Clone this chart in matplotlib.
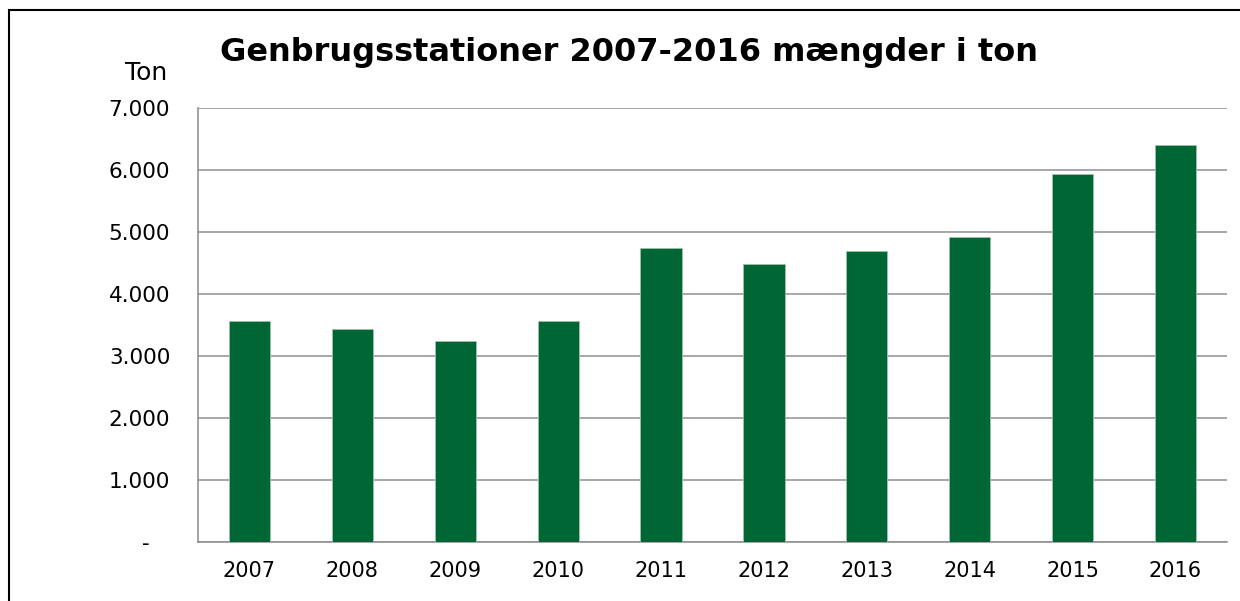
import numpy as np
import matplotlib
matplotlib.use("Agg")
import matplotlib.pyplot as plt
from matplotlib.patches import Rectangle

# data
years = ['2007', '2008', '2009', '2010', '2011', '2012', '2013', '2014', '2015', '2016']
tons = [3565, 3426, 3233, 3560, 4739, 4481, 4686, 4912, 5934, 6402]
yticks = [0, 1000, 2000, 3000, 4000, 5000, 6000, 7000]
ytick_labels = ['-   ', '1.000', '2.000', '3.000', '4.000', '5.000', '6.000', '7.000']
title = 'Genbrugsstationer 2007-2016 mængder i ton'
unit = 'Ton'

W, H = 1240, 601
fig = plt.figure(figsize=(W / 100, H / 100), dpi=100)
plt.rcParams['font.family'] = ['DejaVu Sans']

# outer frame (cut off at right and bottom in the reference)
fig.patches.append(Rectangle((9 / W, -0.1), 1.2, (H - 10) / H + 0.1,
                             transform=fig.transFigure, fill=False,
                             edgecolor='black', linewidth=1.5))

ax = fig.add_axes([198 / W, (H - 541.5) / H, (1227 - 198) / W, (541.5 - 108) / H])
x = np.arange(len(years))
ax.bar(x, tons, width=0.4, color='#006633', edgecolor='#9fc3a9', linewidth=0.6, zorder=3)

ax.set_xlim(-0.5, len(years) - 0.5)
ax.set_ylim(0, 7000)
ax.set_yticks(yticks)
ax.set_yticklabels(ytick_labels)
ax.set_xticks(x)
ax.set_xticklabels(years)
ax.tick_params(axis='y', length=0, pad=20, labelsize=15.5, colors='black')
ax.tick_params(axis='x', length=0, pad=14, labelsize=15, colors='black')

ax.grid(axis='y', color='#8f8f8f', linewidth=1.1, zorder=0)
for s in ['top', 'right']:
    ax.spines[s].set_visible(False)
for s in ['left', 'bottom']:
    ax.spines[s].set_color('#8a8a8a')
    ax.spines[s].set_linewidth(1.1)

fig.text(628.5 / W, (H - 61) / H, title, ha='center', va='baseline',
         fontsize=23, fontweight='bold')
fig.text(167 / W, (H - 80) / H, unit, ha='right', va='baseline', fontsize=18)

fig.savefig('out.png', dpi=100)
